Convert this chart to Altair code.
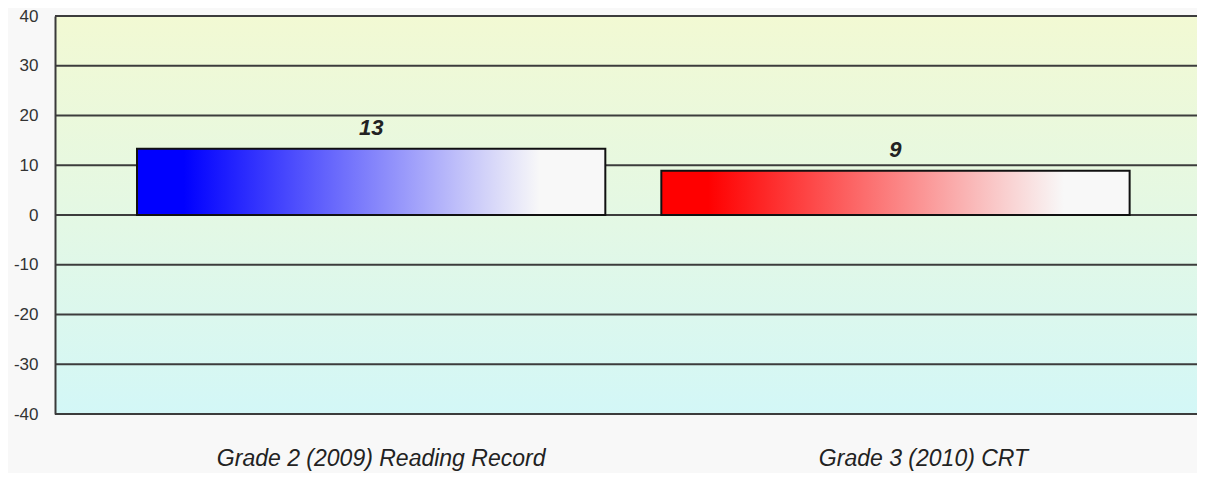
import altair as alt
import pandas as pd

categories = ["Grade 2 (2009) Reading Record", "Grade 3 (2010) CRT"]
values = [13.3, 8.9]
labels = ["13", "9"]
y_ticks = [-40, -30, -20, -10, 0, 10, 20, 30, 40]

W, H = 1142, 398

bars = pd.DataFrame({"cat": categories, "val": values, "lab": labels})
grid = pd.DataFrame({"y": y_ticks})

xscale = alt.Scale(domain=categories, paddingInner=0.1068, paddingOuter=0.14245, align=0.549)
yscale = alt.Scale(domain=[-40, 40], nice=False)

x_enc = alt.X("cat:N", scale=xscale, sort=categories, title=None,
              axis=alt.Axis(domain=False, ticks=False, labelAngle=0, labelFont="Liberation Sans",
                            labelFontSize=23, labelFontStyle="italic", labelColor="#222222",
                            labelPadding=33, labelLimit=600,
                            labelOffset={"condition": {"test": "datum.index > 0.5", "value": 28},
                                         "value": 10}))
y_axis = alt.Axis(values=y_ticks, grid=False, ticks=False, domain=True, domainColor="#3a3a3a",
                  domainWidth=2, labelFont="Liberation Sans", labelFontSize=17, labelColor="#333333",
                  labelPadding=17, zindex=1, labelExpr="'' + datum.value")

bg = alt.Chart(alt.Data(values=[{"a": 1}])).mark_rect(
    fill=alt.Gradient(gradient="linear", x1=0, x2=0, y1=0, y2=1,
                      stops=[alt.GradientStop(color="#f2f9d3", offset=0),
                             alt.GradientStop(color="#e4f8e4", offset=0.5),
                             alt.GradientStop(color="#d3f7f7", offset=1)])
).encode(x=alt.value(0), x2=alt.value(W), y=alt.value(0), y2=alt.value(H))

rules = alt.Chart(grid).mark_rule(color="#3c3c3c", strokeWidth=2).encode(
    y=alt.Y("y:Q", scale=yscale, title=None, axis=y_axis)
)

def grad(c):
    return alt.Gradient(gradient="linear", x1=0, x2=1, y1=0, y2=0,
                        stops=[alt.GradientStop(color=c, offset=0),
                               alt.GradientStop(color=c, offset=0.1),
                               alt.GradientStop(color="#f8f8f8", offset=0.86),
                               alt.GradientStop(color="#f8f8f8", offset=1)])

base = alt.Chart(bars)
bar1 = base.transform_filter(alt.datum.cat == categories[0]).mark_bar(
    fill=grad("#0000ff"), stroke="#111111", strokeWidth=2
).encode(x=x_enc, y=alt.Y("val:Q", scale=yscale), y2=alt.datum(0))
bar2 = base.transform_filter(alt.datum.cat == categories[1]).mark_bar(
    fill=grad("#ff0000"), stroke="#111111", strokeWidth=2
).encode(x=x_enc, y=alt.Y("val:Q", scale=yscale), y2=alt.datum(0))

text = base.mark_text(font="Liberation Sans", fontSize=22, fontWeight="bold", fontStyle="italic",
                      color="#222222", baseline="bottom", dy=-9).encode(
    x=x_enc, y=alt.Y("val:Q", scale=yscale), text="lab:N"
)

chart = alt.layer(bg, rules, bar1, bar2, text).properties(
    width=W, height=H, background="#f8f8f8",
    padding={"left": 47, "top": 8, "right": 0, "bottom": 59},
    autosize=alt.AutoSizeParams(type="none")
).configure_view(stroke=None)

chart.save("out.html", embed_options={"renderer": "svg", "actions": False})
